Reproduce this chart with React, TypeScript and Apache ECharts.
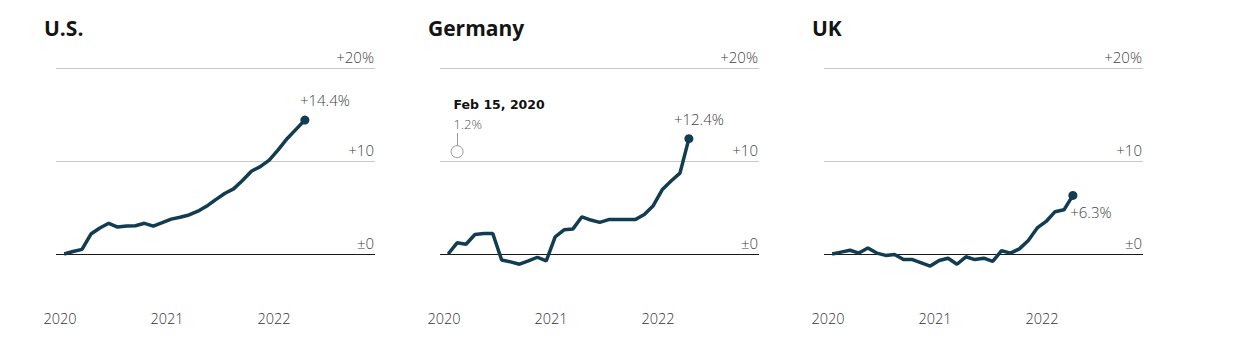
import React, { useEffect, useRef } from "react";
import * as echarts from "echarts";

// ---- Data ----
const panelTitles = ["U.S.", "Germany", "UK"];
const monthDates = [
  "2020-01-15", "2020-02-15", "2020-03-15", "2020-04-15", "2020-05-15", "2020-06-15",
  "2020-07-15", "2020-08-15", "2020-09-15", "2020-10-15", "2020-11-15", "2020-12-15",
  "2021-01-15", "2021-02-15", "2021-03-15", "2021-04-15", "2021-05-15", "2021-06-15",
  "2021-07-15", "2021-08-15", "2021-09-15", "2021-10-15", "2021-11-15", "2021-12-15",
  "2022-01-15", "2022-02-15", "2022-03-15", "2022-04-15",
];
const usValues = [
  0, 0.27, 0.5, 2.15, 2.8, 3.3, 2.9, 3.0, 3.04, 3.3, 3.0, 3.37,
  3.75, 3.95, 4.2, 4.6, 5.15, 5.85, 6.5, 7.0, 7.9, 8.9, 9.4, 10.1,
  11.2, 12.4, 13.4, 14.4,
];
const germanyValues = [
  0, 1.2, 1.05, 2.1, 2.2, 2.2, -0.65, -0.85, -1.1, -0.75, -0.35, -0.75,
  1.85, 2.6, 2.7, 4.0, 3.65, 3.4, 3.7, 3.7, 3.7, 3.7, 4.25, 5.2,
  6.9, 7.85, 8.7, 12.4,
];
const ukValues = [
  0, 0.2, 0.4, 0.1, 0.65, 0.1, -0.15, -0.05, -0.6, -0.6, -0.95, -1.3,
  -0.7, -0.45, -1.1, -0.3, -0.6, -0.45, -0.8, 0.35, 0.1, 0.55, 1.45, 2.8,
  3.5, 4.55, 4.75, 6.3,
];
const yearTickLabels = ["2020", "2021", "2022"];
const yTickValues = [0, 10, 20];
const yTickLabels = ["±0", "+10", "+20%"];
// Hover annotation (Germany)
const annotationPanel = 1;
const annotationDateIndex = 1;
const annotationTitle = "Feb 15, 2020";
const annotationMarkerY = 11; // hover marker height as read

const allValues = [usValues, germanyValues, ukValues];

// months since Jan 1, 2020
function monthPos(d: string): number {
  const [y, m, day] = d.split("-").map(Number);
  return (y - 2020) * 12 + (m - 1) + (day - 1) / 30;
}
const yearPos = yearTickLabels.map((y) => (Number(y) - 2020) * 12);

const LINE = "#123c51";
const FONT = "'Open Sans', Lato, sans-serif";
const TIPFONT = "'DejaVu Sans', Verdana, sans-serif";

export default function App() {
  const ref = useRef<HTMLDivElement>(null);
  useEffect(() => {
    document.body.style.margin = "0";
    const chart = echarts.init(ref.current!, null, { renderer: "svg" });
    const lefts = [56, 440, 824];
    const labelCfg = [
      { position: "top", distance: 8, offset: [20, 0] },
      { position: "top", distance: 8, offset: [10, 0] },
      { position: "bottom", distance: 5, offset: [18, 0] },
    ];
    const grids = lefts.map((l) => ({ left: l, width: 319, top: 68, height: 232.5 }));
    const xAxes = lefts.map((_, i) => ({
      type: "value",
      gridIndex: i,
      min: -0.45,
      max: 35.33,
      axisLine: { show: false },
      axisTick: { show: false },
      splitLine: { show: false },
      axisLabel: {
        customValues: yearPos,
        formatter: (v: number) => yearTickLabels[yearPos.indexOf(v)] ?? "",
        color: "#333",
        fontFamily: FONT,
        fontWeight: 300,
        fontSize: 14.5,
        margin: 10,
      },
    }));
    const yAxes = lefts.map((_, i) => ({
      type: "value",
      gridIndex: i,
      position: "right",
      min: -5,
      max: 20,
      interval: 5,
      axisLine: { show: false },
      axisTick: { show: false, customValues: yTickValues },
      splitLine: {
        show: true,
        lineStyle: { color: ["#1a1a1a", "#c8c8c8", "#c8c8c8"], width: 1 },
      },
      axisLabel: {
        inside: true,
        margin: 1,
        customValues: yTickValues,
        formatter: (v: number) => yTickLabels[yTickValues.indexOf(v)] ?? "",
        color: "#444",
        fontFamily: FONT,
        fontWeight: 300,
        fontSize: 15,
        verticalAlign: "bottom",
        lineHeight: 23,
      },
    }));
    const series: any[] = [];
    allValues.forEach((vals, i) => {
      const data = vals.map((v, k) => [monthPos(monthDates[k]), v]);
      series.push({
        type: "line",
        xAxisIndex: i,
        yAxisIndex: i,
        data,
        symbol: "none",
        lineStyle: { color: LINE, width: 3.5 },
        z: 3,
      });
      const last = data[data.length - 1];
      series.push({
        type: "scatter",
        xAxisIndex: i,
        yAxisIndex: i,
        data: [last],
        symbol: "circle",
        symbolSize: 9,
        itemStyle: { color: LINE, opacity: 1 },
        z: 4,
        label: {
          show: true,
          formatter: (p: any) => "+" + p.value[1].toFixed(1) + "%",
          color: "#444",
          fontFamily: FONT,
          fontWeight: 300,
          fontSize: 15,
          ...labelCfg[i],
        },
      });
    });
    const annX = monthPos(monthDates[annotationDateIndex]);
    const annV = allValues[annotationPanel][annotationDateIndex];
    series.push({
      type: "scatter",
      xAxisIndex: annotationPanel,
      yAxisIndex: annotationPanel,
      data: [[annX, annotationMarkerY]],
      symbol: "circle",
      symbolSize: 12,
      itemStyle: { color: "#fff", borderColor: "#999", borderWidth: 1, opacity: 1 },
      z: 5,
      label: {
        show: true,
        position: [3, -51],
        align: "left",
        verticalAlign: "top",
        formatter: "{a|" + annotationTitle + "}\n{b|" + annV.toFixed(1) + "%}",
        rich: {
          a: { fontFamily: TIPFONT, fontWeight: "bold", fontSize: 12.5, color: "#111", lineHeight: 20 },
          b: { fontFamily: FONT, fontWeight: 300, fontSize: 13, color: "#555", lineHeight: 20 },
        },
      },
      markLine: {
        silent: true,
        symbol: "none",
        label: { show: false },
        lineStyle: { color: "#999", width: 1, type: "solid" },
        data: [[{ coord: [annX, 13.0] }, { coord: [annX, 11.65] }]],
      },
    });
    chart.setOption({
      animation: false,
      backgroundColor: "#fff",
      title: panelTitles.map((t, i) => ({
        text: t,
        left: lefts[i] - 12,
        top: 17,
        padding: 0,
        textStyle: { fontFamily: FONT, fontWeight: "bold", fontSize: 21, color: "#151515" },
      })),
      grid: grids,
      xAxis: xAxes,
      yAxis: yAxes,
      series,
    });
    return () => chart.dispose();
  }, []);
  return <div ref={ref} style={{ width: 1243, height: 361 }} />;
}
